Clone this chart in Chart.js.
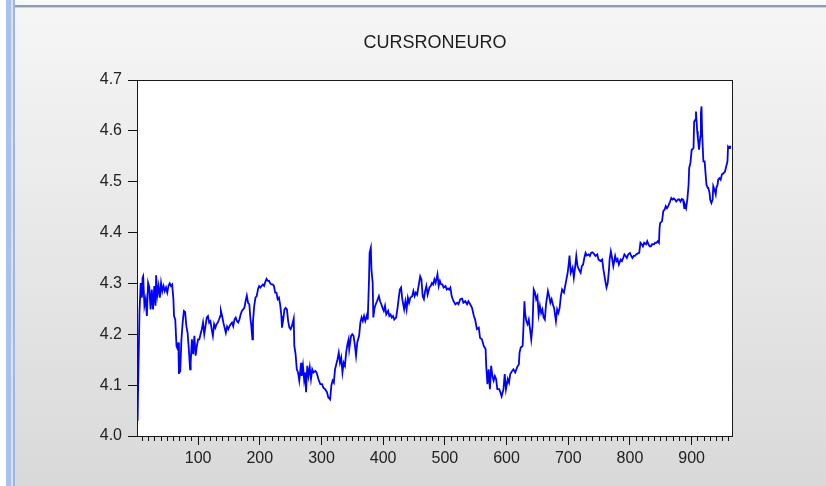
<!DOCTYPE html>
<html>
<head>
<meta charset="utf-8">
<script src="https://cdn.jsdelivr.net/npm/chart.js@4.4.1/dist/chart.umd.min.js"></script>
<style>
  html, body { margin: 0; padding: 0; overflow: hidden; background: #ffffff; }
  canvas { display: block; }
</style>
</head>
<body>
<canvas id="chart" width="826" height="486"></canvas>
<script>
// Observation numbers of the RON/EUR daily series
const obsIndex = [
  1, 2, 3, 5, 7, 9, 10, 11, 13, 15,
  17, 19, 21, 23, 25, 27, 29, 31, 32, 34,
  36, 38, 40, 42, 44, 46, 48, 50, 52, 54,
  56, 58, 60, 61, 63, 65, 67, 68, 69, 70,
  71, 73, 75, 77, 79, 81, 83, 85, 87, 88,
  90, 92, 94, 96, 98, 100, 102, 104, 106, 108,
  110, 112, 114, 116, 118, 120, 122, 124, 126, 128,
  130, 132, 134, 136, 137, 139, 141, 143, 145, 147,
  149, 151, 153, 155, 157, 159, 161, 163, 165, 167,
  169, 171, 173, 175, 177, 179, 181, 183, 185, 186,
  188, 189, 191, 193, 195, 197, 199, 201, 203, 205,
  207, 209, 211, 213, 215, 217, 219, 221, 223, 225,
  227, 229, 231, 233, 235, 236, 238, 240, 242, 244,
  246, 248, 250, 252, 255, 256, 258, 260, 262, 264,
  267, 268, 270, 272, 274, 275, 277, 279, 281, 283,
  285, 287, 290, 292, 295, 298, 301, 303, 306, 309,
  311, 314, 316, 318, 320, 322, 324, 326, 328, 330,
  332, 334, 336, 338, 340, 342, 344, 345, 348, 350,
  352, 354, 356, 358, 361, 363, 365, 367, 369, 371,
  374, 375, 377, 378, 380, 381, 383, 384, 386, 388,
  390, 393, 395, 397, 399, 401, 403, 405, 408, 410,
  412, 414, 416, 418, 421, 423, 425, 427, 429, 431,
  434, 436, 438, 440, 442, 444, 447, 449, 451, 453,
  455, 457, 460, 462, 464, 466, 468, 470, 472, 475,
  477, 479, 481, 483, 485, 488, 490, 492, 494, 496,
  498, 501, 503, 505, 507, 509, 511, 514, 517, 520,
  522, 525, 528, 530, 533, 536, 538, 541, 544, 547,
  549, 552, 555, 557, 560, 563, 566, 567, 569, 571,
  573, 575, 577, 579, 581, 583, 585, 588, 590, 592,
  595, 597, 599, 602, 604, 606, 609, 611, 614, 617,
  620, 621, 623, 626, 627, 629, 630, 632, 634, 636,
  638, 640, 642, 644, 646, 648, 650, 652, 654, 656,
  658, 660, 662, 664, 667, 669, 671, 673, 675, 677,
  680, 682, 684, 686, 688, 690, 693, 695, 697, 699,
  701, 702, 704, 707, 709, 711, 713, 715, 717, 720,
  722, 724, 726, 728, 730, 733, 735, 737, 739, 741,
  744, 747, 749, 752, 755, 757, 760, 762, 764, 766,
  767, 769, 771, 773, 775, 776, 778, 780, 782, 785,
  787, 789, 791, 793, 795, 797, 800, 802, 804, 806,
  808, 810, 813, 815, 817, 819, 821, 823, 826, 828,
  830, 832, 834, 836, 839, 841, 843, 845, 847, 848,
  849, 852, 854, 856, 858, 860, 862, 865, 867, 869,
  871, 873, 875, 878, 880, 882, 884, 886, 888, 889,
  891, 893, 895, 896, 898, 900, 901, 903, 904, 906,
  907, 909, 910, 912, 914, 915, 916, 917, 919, 921,
  922, 924, 926, 927, 929, 930, 932, 934, 935, 937,
  939, 940, 942, 943, 945, 947, 949, 952, 954, 956,
  958, 959, 961, 962, 964
];

// CURSRONEURO exchange rate at each observation
const cursValues = [
  4.108, 4.030, 4.110, 4.243, 4.301, 4.272, 4.311, 4.314, 4.256, 4.269,
  4.236, 4.301, 4.292, 4.249, 4.288, 4.249, 4.295, 4.256, 4.316, 4.278,
  4.295, 4.272, 4.301, 4.285, 4.295, 4.285, 4.292, 4.282, 4.295, 4.300,
  4.295, 4.298, 4.269, 4.236, 4.229, 4.177, 4.171, 4.184, 4.122, 4.158,
  4.125, 4.190, 4.223, 4.246, 4.244, 4.216, 4.203, 4.171, 4.131, 4.145,
  4.190, 4.161, 4.197, 4.158, 4.177, 4.190, 4.190, 4.200, 4.210, 4.223,
  4.200, 4.216, 4.233, 4.236, 4.223, 4.226, 4.210, 4.197, 4.220, 4.213,
  4.220, 4.223, 4.229, 4.236, 4.246, 4.236, 4.223, 4.213, 4.203, 4.215,
  4.210, 4.216, 4.220, 4.223, 4.216, 4.229, 4.233, 4.226, 4.223, 4.229,
  4.239, 4.246, 4.249, 4.252, 4.265, 4.276, 4.262, 4.259, 4.229, 4.220,
  4.190, 4.226, 4.256, 4.272, 4.275, 4.288, 4.295, 4.292, 4.295, 4.298,
  4.295, 4.303, 4.309, 4.305, 4.305, 4.300, 4.298, 4.298, 4.295, 4.282,
  4.282, 4.269, 4.272, 4.259, 4.236, 4.213, 4.229, 4.249, 4.252, 4.249,
  4.226, 4.213, 4.210, 4.216, 4.231, 4.177, 4.161, 4.131, 4.125, 4.109,
  4.144, 4.118, 4.138, 4.109, 4.125, 4.086, 4.138, 4.118, 4.135, 4.112,
  4.131, 4.125, 4.128, 4.125, 4.112, 4.102, 4.102, 4.095, 4.092, 4.086,
  4.076, 4.072, 4.099, 4.109, 4.105, 4.131, 4.141, 4.151, 4.164, 4.144,
  4.154, 4.125, 4.144, 4.138, 4.164, 4.180, 4.190, 4.171, 4.197, 4.200,
  4.197, 4.180, 4.158, 4.184, 4.197, 4.223, 4.233, 4.226, 4.236, 4.226,
  4.239, 4.229, 4.305, 4.360, 4.370, 4.327, 4.301, 4.233, 4.252, 4.259,
  4.265, 4.275, 4.265, 4.259, 4.252, 4.246, 4.256, 4.239, 4.246, 4.236,
  4.239, 4.233, 4.236, 4.229, 4.233, 4.249, 4.269, 4.288, 4.292, 4.269,
  4.249, 4.265, 4.249, 4.272, 4.262, 4.272, 4.275, 4.285, 4.275, 4.282,
  4.278, 4.292, 4.314, 4.308, 4.275, 4.269, 4.285, 4.295, 4.278, 4.292,
  4.295, 4.301, 4.298, 4.308, 4.301, 4.318, 4.295, 4.305, 4.298, 4.298,
  4.292, 4.295, 4.288, 4.290, 4.288, 4.292, 4.275, 4.265, 4.259, 4.262,
  4.259, 4.269, 4.270, 4.262, 4.265, 4.259, 4.265, 4.259, 4.252, 4.236,
  4.229, 4.210, 4.213, 4.193, 4.190, 4.177, 4.171, 4.138, 4.102, 4.131,
  4.092, 4.138, 4.118, 4.109, 4.118, 4.112, 4.092, 4.092, 4.086, 4.078,
  4.092, 4.122, 4.092, 4.112, 4.105, 4.122, 4.128, 4.131, 4.125, 4.135,
  4.141, 4.164, 4.174, 4.177, 4.203, 4.265, 4.242, 4.226, 4.220, 4.229,
  4.210, 4.190, 4.216, 4.288, 4.282, 4.269, 4.275, 4.239, 4.256, 4.242,
  4.249, 4.233, 4.229, 4.259, 4.285, 4.275, 4.262, 4.269, 4.259, 4.252,
  4.226, 4.249, 4.242, 4.252, 4.275, 4.288, 4.282, 4.295, 4.308, 4.321,
  4.341, 4.355, 4.321, 4.331, 4.311, 4.331, 4.354, 4.334, 4.328, 4.321,
  4.334, 4.337, 4.350, 4.360, 4.355, 4.357, 4.354, 4.360, 4.361, 4.359,
  4.354, 4.357, 4.347, 4.344, 4.347, 4.327, 4.305, 4.292, 4.301, 4.327,
  4.347, 4.363, 4.350, 4.334, 4.347, 4.354, 4.344, 4.348, 4.337, 4.347,
  4.344, 4.350, 4.357, 4.354, 4.350, 4.357, 4.360, 4.354, 4.350, 4.354,
  4.354, 4.357, 4.359, 4.360, 4.380, 4.377, 4.373, 4.380, 4.377, 4.383,
  4.377, 4.373, 4.373, 4.377, 4.377, 4.380, 4.380, 4.383, 4.380, 4.409,
  4.419, 4.422, 4.442, 4.445, 4.452, 4.448, 4.452, 4.461, 4.468, 4.465,
  4.467, 4.465, 4.461, 4.465, 4.465, 4.461, 4.466, 4.465, 4.448, 4.455,
  4.448, 4.465, 4.494, 4.527, 4.537, 4.563, 4.563, 4.566, 4.618, 4.622,
  4.638, 4.599, 4.586, 4.563, 4.589, 4.635, 4.648, 4.595, 4.540, 4.540,
  4.524, 4.494, 4.488, 4.488, 4.478, 4.465, 4.458, 4.465, 4.491, 4.484,
  4.475, 4.488, 4.494, 4.504, 4.507, 4.504, 4.514, 4.517, 4.520, 4.530,
  4.540, 4.569, 4.566, 4.569, 4.569
];

// Axis ticks
const yTickValues = [4.0, 4.1, 4.2, 4.3, 4.4, 4.5, 4.6, 4.7];
const xLabelValues = [100, 200, 300, 400, 500, 600, 700, 800, 900];
const xRange = { min: 1, max: 967 };
const minorStep = 10;

const FONT = '"Liberation Sans", Arial, Helvetica, sans-serif';

// Window background, side border and the white plot rectangle with its frame
const windowFrame = {
  id: 'windowFrame',
  beforeDraw(chart) {
    const { ctx, width, height, chartArea: a } = chart;
    ctx.save();
    const g = ctx.createLinearGradient(0, 0, 0, height);
    g.addColorStop(0, '#f6f6f6');
    g.addColorStop(1, '#d9d9d9');
    ctx.fillStyle = g;
    ctx.fillRect(0, 0, width, height);

    ctx.fillStyle = '#f8f9fb';
    ctx.fillRect(0, 0, width, 5);
    ctx.fillStyle = '#8e9cb2';
    ctx.fillRect(15, 5, width - 15, 2);
    ctx.fillStyle = '#c9d2df';
    ctx.fillRect(15, 7, width - 15, 1);

    ctx.fillStyle = '#ffffff';
    ctx.fillRect(0, 0, 6, height);
    ctx.fillStyle = '#a7c1ea';
    ctx.fillRect(6, 0, 5, height);
    ctx.fillStyle = '#d5e1f5';
    ctx.fillRect(11, 0, 2, height);
    ctx.fillStyle = '#9fb6de';
    ctx.fillRect(13, 0, 2, height);

    ctx.fillStyle = '#ffffff';
    ctx.fillRect(a.left, a.top, a.right - a.left, a.bottom - a.top);
    ctx.restore();
  },
  afterDraw(chart) {
    const { ctx, chartArea: a } = chart;
    ctx.save();
    ctx.strokeStyle = '#1a1a1a';
    ctx.lineWidth = 1;
    ctx.strokeRect(a.left + 0.5, a.top + 0.5, a.right - a.left - 1, a.bottom - a.top);
    ctx.restore();
  }
};

const points = obsIndex.map((o, i) => ({ x: o, y: cursValues[i] }));

new Chart(document.getElementById('chart'), {
  type: 'line',
  data: {
    datasets: [{
      label: 'CURSRONEURO',
      data: points,
      borderColor: '#0000ff',
      borderWidth: 1.8,
      pointRadius: 0,
      tension: 0,
      fill: false
    }]
  },
  options: {
    responsive: false,
    animation: false,
    devicePixelRatio: 1,
    layout: { padding: { left: 0, right: 93, top: 0, bottom: 0 } },
    plugins: {
      legend: { display: false },
      tooltip: { enabled: false },
      title: {
        display: true,
        text: 'CURSRONEURO',
        fullSize: false,
        color: '#1e1e1e',
        font: { family: FONT, size: 18, weight: 'normal', lineHeight: 1.2 },
        padding: { top: 32, bottom: 26.4 }
      }
    },
    scales: {
      x: {
        type: 'linear',
        min: xRange.min,
        max: xRange.max,
        afterBuildTicks(scale) {
          const t = [];
          for (let v = minorStep; v <= xRange.max; v += minorStep) t.push({ value: v });
          scale.ticks = t;
        },
        afterFit(scale) { scale.height = 50; },
        border: { display: false },
        grid: {
          drawOnChartArea: false,
          drawTicks: true,
          tickLength: 9,
          tickColor: '#111',
          tickWidth: 1,
          tickBorderDash: (ctx) => (ctx.tick && xLabelValues.includes(ctx.tick.value)) ? [] : [5, 30]
        },
        ticks: {
          autoSkip: false,
          maxRotation: 0,
          minRotation: 0,
          padding: 4,
          color: '#222',
          font: { family: FONT, size: 16 },
          callback: (v) => xLabelValues.includes(v) ? String(v) : ''
        }
      },
      y: {
        min: 4.0,
        max: 4.7,
        afterBuildTicks(scale) {
          scale.ticks = yTickValues.map(v => ({ value: v }));
        },
        afterFit(scale) { scale.width = 137; },
        border: { display: false },
        grid: {
          drawOnChartArea: false,
          tickLength: 9,
          tickColor: '#111',
          tickWidth: 1
        },
        ticks: {
          padding: 6,
          color: '#222',
          font: { family: FONT, size: 16 },
          callback: (v) => Number(v).toFixed(1)
        }
      }
    }
  },
  plugins: [windowFrame]
});
</script>
</body>
</html>
